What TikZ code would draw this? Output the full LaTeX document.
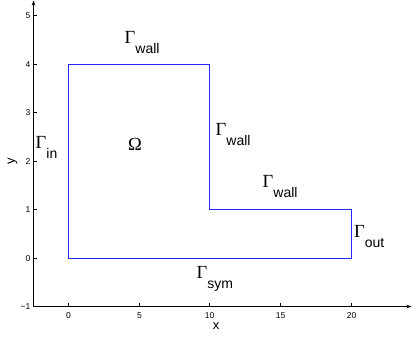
\documentclass[tikz,border=0pt]{standalone}
\usepackage{fontspec}
\setsansfont{Liberation Sans}
\newfontfamily\grk{Liberation Serif}
\usetikzlibrary{arrows.meta}
\tikzset{
  axisline/.style={black, line width=1pt},
  boundary/.style={blue!85!white, line width=1.1pt},
  ticklab/.style={font=\sffamily\fontsize{8.5}{9}\selectfont, inner sep=0pt},
  gamlab/.style={anchor=base west, inner sep=0pt, font=\grk\fontsize{18.5}{20}\selectfont},
  axlab/.style={font=\sffamily\fontsize{13}{14}\selectfont, inner sep=0pt}
}
\newcommand{\gsub}[1]{\raisebox{-10pt}{\sffamily\fontsize{14}{15}\selectfont #1}}
\begin{document}
\begin{tikzpicture}[x=1pt,y=-1pt]
\useasboundingbox (0,0) rectangle (412,338);
% axes
\coordinate (O) at (33.5,306.5);
\coordinate (YT) at (33.5,0.5);
\coordinate (XR) at (411.5,306.5);
\draw[axisline, -{Stealth[length=5pt,width=3.5pt]}] (O) -- (YT);
\draw[axisline, -{Stealth[length=5pt,width=3.5pt]}] (O) -- (XR);
% y ticks
\foreach \v/\py/\lab in {-1/306.5/{−1},0/258.5/0,1/209.5/1,2/161.5/2,3/112.5/3,4/64.5/4,5/15.5/5}{
  \draw[axisline, line width=0.7pt] (33.5,\py) -- (37,\py);
  \node[ticklab, anchor=east] (yt\v) at (30.5,\py) {\lab};
}
% x ticks
\foreach \v/\px in {0/68.5,5/139.5,10/209.5,15/280.5,20/351.5}{
  \draw[axisline, line width=0.7pt] (\px,306.5) -- (\px,303);
  \node[ticklab, anchor=north] (xt\v) at (\px,312.5) {\v};
}
% domain boundary
\coordinate (A) at (68.5,258.5);
\coordinate (B) at (68.5,64.5);
\coordinate (C) at (209.5,64.5);
\coordinate (D) at (209.5,209.5);
\coordinate (E) at (351.5,209.5);
\coordinate (F) at (351.5,258.5);
\draw[boundary] (A) -- (B) -- (C) -- (D) -- (E) -- (F) -- cycle;
% labels
\node[gamlab] (gwtop) at (124.5,43) {Γ\gsub{wall}};
\node[gamlab] (omega) at (128,150) {Ω};
\node[gamlab] (gin) at (35.5,148) {Γ\gsub{in}};
\node[gamlab] (gwright) at (215.5,135) {Γ\gsub{wall}};
\node[gamlab] (gwlow) at (262.5,187) {Γ\gsub{wall}};
\node[gamlab] (gout) at (354,237) {Γ\gsub{out}};
\node[gamlab] (gsym) at (196.5,278) {Γ\gsub{sym}};
\node[axlab] (xlab) at (216,326) {x};
\node[axlab, rotate=90] (ylab) at (12.5,161) {y};
\end{tikzpicture}
\end{document}
